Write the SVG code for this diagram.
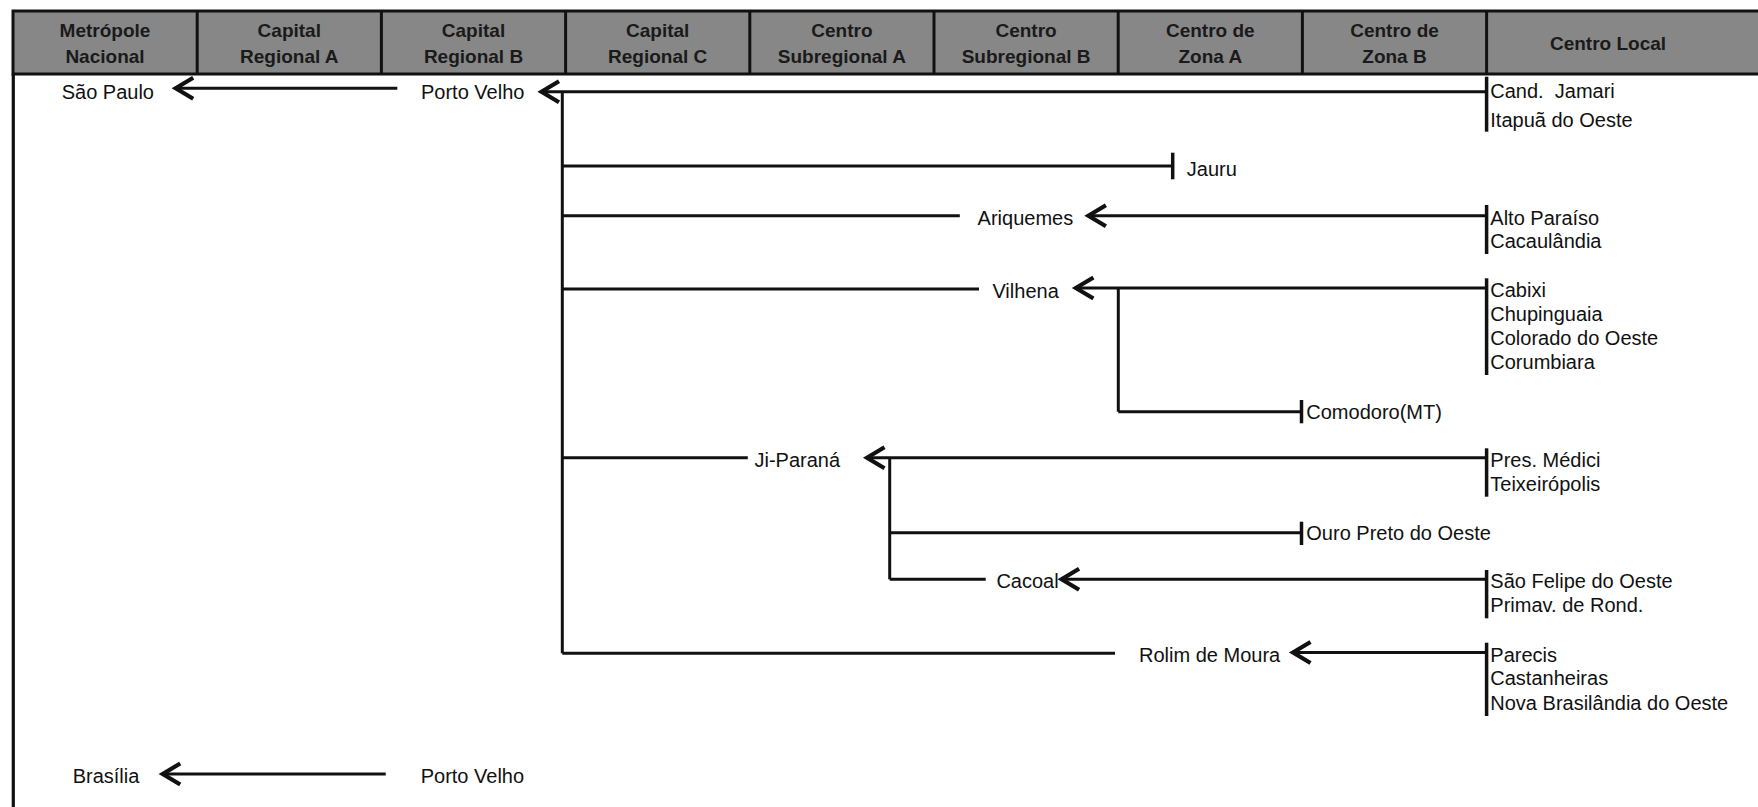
<svg xmlns="http://www.w3.org/2000/svg" width="1758" height="807" viewBox="0 0 1758 807">
<style>
.hdr{fill:#878787;stroke:#111;stroke-width:3}
.hd{font-family:"Liberation Sans",Arial,sans-serif;font-size:19px;font-weight:bold;fill:#1a1a1a;text-anchor:middle}
.t{font-family:"Liberation Sans",Arial,sans-serif;font-size:20px;fill:#111}
.ln{stroke:#111;stroke-width:3;fill:none}
.tk{stroke:#111;stroke-width:3.5;fill:none}
</style>
<defs>
<marker id="arr" markerUnits="userSpaceOnUse" markerWidth="24" markerHeight="26" refX="2" refY="12" orient="auto" overflow="visible">
<path d="M19.5,1.5 L2,12 L19.5,22.5" fill="none" stroke="#111" stroke-width="4.2" stroke-linejoin="miter"/>
</marker>
</defs>
<rect width="1758" height="807" fill="#fff"/>
<g id="header">
<rect class="hdr" x="13" y="11" width="1760" height="63"/>
<g class="ln">
<line x1="197.2" y1="11" x2="197.2" y2="74"/>
<line x1="381.4" y1="11" x2="381.4" y2="74"/>
<line x1="565.6" y1="11" x2="565.6" y2="74"/>
<line x1="749.8" y1="11" x2="749.8" y2="74"/>
<line x1="934" y1="11" x2="934" y2="74"/>
<line x1="1118.2" y1="11" x2="1118.2" y2="74"/>
<line x1="1302.4" y1="11" x2="1302.4" y2="74"/>
<line x1="1486.6" y1="11" x2="1486.6" y2="74"/>
</g>
<text class="hd" x="105" y="36.7">Metrópole</text><text class="hd" x="105" y="63.3">Nacional</text>
<text class="hd" x="289.3" y="36.7">Capital</text><text class="hd" x="289.3" y="63.3">Regional A</text>
<text class="hd" x="473.5" y="36.7">Capital</text><text class="hd" x="473.5" y="63.3">Regional B</text>
<text class="hd" x="657.7" y="36.7">Capital</text><text class="hd" x="657.7" y="63.3">Regional C</text>
<text class="hd" x="841.9" y="36.7">Centro</text><text class="hd" x="841.9" y="63.3">Subregional A</text>
<text class="hd" x="1026.1" y="36.7">Centro</text><text class="hd" x="1026.1" y="63.3">Subregional B</text>
<text class="hd" x="1210.3" y="36.7">Centro de</text><text class="hd" x="1210.3" y="63.3">Zona A</text>
<text class="hd" x="1394.5" y="36.7">Centro de</text><text class="hd" x="1394.5" y="63.3">Zona B</text>
<text class="hd" x="1608" y="49.5">Centro Local</text>
</g>
<line id="left-border" x1="13.3" y1="74" x2="13.3" y2="807" stroke="#111" stroke-width="3.2"/>
<g id="connectors">
<line class="ln" x1="175.7" y1="88.3" x2="397.3" y2="88.3" marker-start="url(#arr)"/>
<line class="ln" x1="162.7" y1="774" x2="385.7" y2="774" marker-start="url(#arr)"/>
<line class="ln" x1="541.5" y1="91.7" x2="1486.6" y2="91.7" marker-start="url(#arr)"/>
<line class="ln" x1="562.3" y1="91.7" x2="562.3" y2="653.3"/>
<line class="ln" x1="562.3" y1="166" x2="1172.7" y2="166"/>
<line class="tk" x1="1172.7" y1="152.7" x2="1172.7" y2="179.3"/>
<line class="ln" x1="562.3" y1="215.7" x2="959.8" y2="215.7"/>
<line class="ln" x1="1088.4" y1="215.7" x2="1486.6" y2="215.7" marker-start="url(#arr)"/>
<line class="ln" x1="562.3" y1="289" x2="979" y2="289"/>
<line class="ln" x1="1075.9" y1="288" x2="1486.6" y2="288" marker-start="url(#arr)"/>
<line class="ln" x1="1118.3" y1="288" x2="1118.3" y2="411.7"/>
<line class="ln" x1="1118.3" y1="411.7" x2="1301.5" y2="411.7"/>
<line class="tk" x1="1301.5" y1="400" x2="1301.5" y2="423.3"/>
<line class="ln" x1="562.3" y1="457.7" x2="747.8" y2="457.7"/>
<line class="ln" x1="867" y1="457.7" x2="1486.6" y2="457.7" marker-start="url(#arr)"/>
<line class="ln" x1="889.7" y1="457.7" x2="889.7" y2="579.3"/>
<line class="ln" x1="889.7" y1="532.7" x2="1301.5" y2="532.7"/>
<line class="tk" x1="1301.5" y1="521.7" x2="1301.5" y2="545"/>
<line class="ln" x1="889.7" y1="579.3" x2="985.7" y2="579.3"/>
<line class="ln" x1="1061.6" y1="579.3" x2="1486.6" y2="579.3" marker-start="url(#arr)"/>
<line class="ln" x1="562.3" y1="653.3" x2="1115" y2="653.3"/>
<line class="ln" x1="1293" y1="652.5" x2="1486.6" y2="652.5" marker-start="url(#arr)"/>
<line class="tk" x1="1486.6" y1="76.7" x2="1486.6" y2="131.7"/>
<line class="tk" x1="1486.6" y1="205" x2="1486.6" y2="254"/>
<line class="tk" x1="1486.6" y1="278.3" x2="1486.6" y2="375"/>
<line class="tk" x1="1486.6" y1="448.3" x2="1486.6" y2="496.7"/>
<line class="tk" x1="1486.6" y1="570" x2="1486.6" y2="618.3"/>
<line class="tk" x1="1486.6" y1="642.7" x2="1486.6" y2="716"/>
</g>
<g id="sao-paulo"><text class="t" x="61.7" y="99.3">São Paulo</text></g>
<g id="porto-velho"><text class="t" x="421" y="99.3">Porto Velho</text></g>
<g id="brasilia"><text class="t" x="72.7" y="783.3">Brasília</text></g>
<g id="porto-velho-2"><text class="t" x="420.7" y="783.3">Porto Velho</text></g>
<g id="jauru"><text class="t" x="1186.8" y="175.5">Jauru</text></g>
<g id="ariquemes"><text class="t" x="977.6" y="224.5">Ariquemes</text></g>
<g id="vilhena"><text class="t" x="992.4" y="297.5">Vilhena</text></g>
<g id="comodoro"><text class="t" x="1306.3" y="419.3">Comodoro(MT)</text></g>
<g id="ji-parana"><text class="t" x="754.5" y="467">Ji-Paraná</text></g>
<g id="ouro-preto"><text class="t" x="1306.3" y="540">Ouro Preto do Oeste</text></g>
<g id="cacoal"><text class="t" x="996.4" y="588.3">Cacoal</text></g>
<g id="rolim"><text class="t" x="1139" y="661.7">Rolim de Moura</text></g>
<g id="local-jamari">
<text class="t" x="1490.3" y="98.3" xml:space="preserve">Cand.  Jamari</text>
<text class="t" x="1490.3" y="126.7">Itapuã do Oeste</text>
</g>
<g id="local-ariquemes">
<text class="t" x="1490.3" y="225">Alto Paraíso</text>
<text class="t" x="1490.3" y="248.3">Cacaulândia</text>
</g>
<g id="local-vilhena">
<text class="t" x="1490.3" y="296.7">Cabixi</text>
<text class="t" x="1490.3" y="320.7">Chupinguaia</text>
<text class="t" x="1490.3" y="345">Colorado do Oeste</text>
<text class="t" x="1490.3" y="369.3">Corumbiara</text>
</g>
<g id="local-ji-parana">
<text class="t" x="1490.3" y="467.3">Pres. Médici</text>
<text class="t" x="1490.3" y="490.7">Teixeirópolis</text>
</g>
<g id="local-cacoal">
<text class="t" x="1490.3" y="588.3">São Felipe do Oeste</text>
<text class="t" x="1490.3" y="612.3">Primav. de Rond.</text>
</g>
<g id="local-rolim">
<text class="t" x="1490.3" y="661.7">Parecis</text>
<text class="t" x="1490.3" y="685">Castanheiras</text>
<text class="t" x="1490.3" y="710">Nova Brasilândia do Oeste</text>
</g>
</svg>
